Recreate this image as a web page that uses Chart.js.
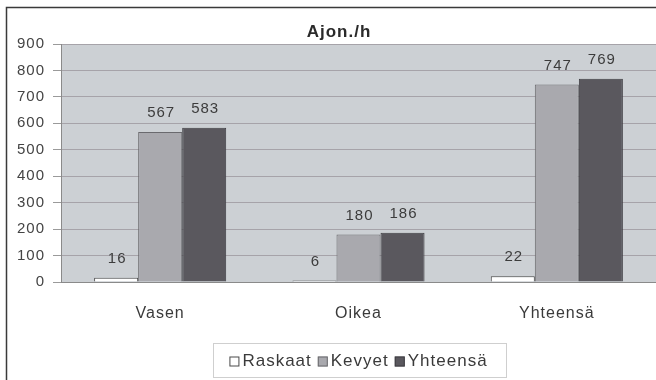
<!DOCTYPE html>
<html>
<head>
<meta charset="utf-8">
<style>
  html, body { margin: 0; padding: 0; background: #ffffff; }
  #wrap { width: 656px; height: 380px; position: relative; }
</style>
<script src="https://cdn.jsdelivr.net/npm/chart.js@4/dist/chart.umd.min.js"></script>
</head>
<body>
<div id="wrap"><canvas id="c" width="656" height="380"></canvas></div>
<script>
// Traffic volumes per direction (vehicles per hour)
const title = 'Ajon./h';
const categories = ['Vasen', 'Oikea', 'Yhteensä'];
const seriesNames = ['Raskaat', 'Kevyet', 'Yhteensä'];
const raskaat = [16, 6, 22];
const kevyet = [567, 180, 747];
const yhteensa = [583, 186, 769];
const yTicks = [0, 100, 200, 300, 400, 500, 600, 700, 800, 900];

const FONT = '"Liberation Sans", Arial, sans-serif';
const SPACING = '1px';

const fills = ['#ffffff', '#a9a9ae', '#5a585e'];
const strokes = ['#4a4a4a', '#6a6a6e', '#3e3d42'];

function spaced(ctx) { ctx.letterSpacing = SPACING; }

const decor = {
  id: 'decor',
  beforeLayout(chart) { spaced(chart.ctx); },
  beforeDraw(chart) {
    const ctx = chart.ctx, a = chart.chartArea;
    spaced(ctx);
    ctx.save();
    ctx.fillStyle = '#ccd0d4';
    ctx.fillRect(a.left, a.top, a.right - a.left, a.bottom - a.top);
    ctx.restore();
  },
  afterDatasetsDraw(chart) {
    const ctx = chart.ctx;
    ctx.save();
    spaced(ctx);
    ctx.font = '15px ' + FONT;
    ctx.fillStyle = '#3c3c3c';
    ctx.textAlign = 'center';
    ctx.textBaseline = 'middle';
    chart.data.datasets.forEach((ds, i) => {
      chart.getDatasetMeta(i).data.forEach((bar, j) => {
        ctx.fillText(String(ds.data[j]), bar.x + 1, bar.y - 19);
      });
    });
    ctx.restore();
  },
  afterDraw(chart) {
    const ctx = chart.ctx, a = chart.chartArea;
    ctx.save();
    spaced(ctx);
    // outer frame
    ctx.strokeStyle = '#3a3a3a';
    ctx.lineWidth = 1.5;
    ctx.beginPath();
    ctx.moveTo(6.5, 380);
    ctx.lineTo(6.5, 7.5);
    ctx.lineTo(656, 7.5);
    ctx.stroke();
    // title
    ctx.font = 'bold 17px ' + FONT;
    ctx.fillStyle = '#2a2a2a';
    ctx.textAlign = 'center';
    ctx.textBaseline = 'middle';
    ctx.fillText(title, 339, 32);
    // legend
    ctx.font = '17px ' + FONT;
    ctx.textAlign = 'left';
    const box = 10, gapText = 3, gapItem = 6;
    const widths = chart.data.datasets.map(ds => ctx.measureText(ds.label).width);
    let total = 0;
    widths.forEach((w, i) => { total += box + gapText + w + (i < widths.length - 1 ? gapItem : 0); });
    const cx = (a.left + a.right) / 2;
    const lx = 213.5, lw = 293, ly = 343.5, lh = 34;
    ctx.strokeStyle = '#cfcfcf';
    ctx.lineWidth = 1;
    ctx.strokeRect(lx, ly, lw, lh);
    let x = cx - total / 2;
    const my = ly + lh / 2 + 1;
    chart.data.datasets.forEach((ds, i) => {
      ctx.fillStyle = ds.backgroundColor;
      ctx.fillRect(x, my - box / 2, box, box);
      ctx.strokeStyle = ds.borderColor;
      ctx.strokeRect(x + 0.5, my - box / 2 + 0.5, box - 1, box - 1);
      x += box + gapText;
      ctx.fillStyle = '#3a3a3a';
      ctx.fillText(ds.label, x, my);
      x += widths[i] + gapItem;
    });
    ctx.restore();
  }
};

const seriesData = [raskaat, kevyet, yhteensa];

new Chart(document.getElementById('c'), {
  type: 'bar',
  data: {
    labels: categories,
    datasets: seriesNames.map((name, i) => ({
      label: name,
      data: seriesData[i],
      backgroundColor: fills[i],
      borderColor: strokes[i],
      borderWidth: 1,
      categoryPercentage: 0.666,
      barPercentage: 1
    }))
  },
  options: {
    responsive: false,
    animation: false,
    devicePixelRatio: 1,
    layout: { padding: { top: 44, right: 0, bottom: 48, left: 0 } },
    plugins: {
      legend: { display: false },
      title: { display: false },
      tooltip: { enabled: false }
    },
    scales: {
      x: {
        grid: { display: false, drawTicks: false },
        border: { display: true, color: '#8a8a8a', width: 1 },
        ticks: { color: '#3a3a3a', font: { family: FONT, size: 16 }, padding: 22 },
        afterFit(scale) { scale.height = 50; }
      },
      y: {
        min: 0,
        max: 900,
        afterBuildTicks(scale) { scale.ticks = yTicks.map(v => ({ value: v })); },
        grid: { color: '#a6a3a9', lineWidth: 1, tickLength: 8, tickColor: '#9a9a9a' },
        border: { display: true, color: '#8a8a8a', width: 1 },
        ticks: { color: '#444444', font: { family: FONT, size: 15 }, padding: 8 },
        afterFit(scale) { scale.width = 61; }
      }
    }
  },
  plugins: [decor]
});
</script>
</body>
</html>
